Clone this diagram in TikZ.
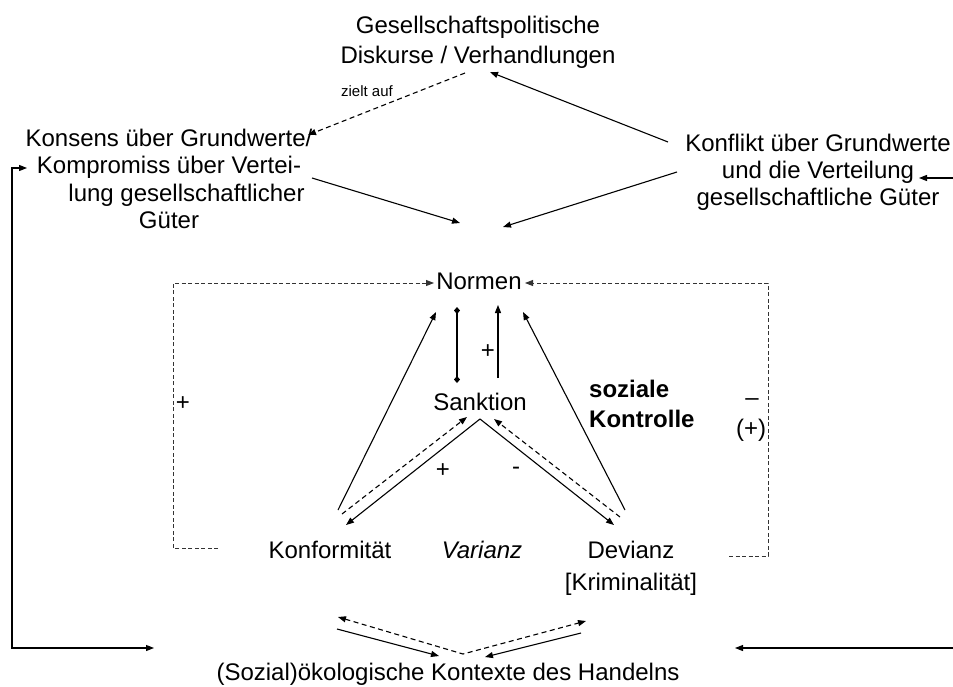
\documentclass[tikz,border=0pt]{standalone}
\usepackage{fontspec}
\setmainfont{Liberation Sans}
\usetikzlibrary{arrows.meta}
\begin{document}
\begin{tikzpicture}[x=1pt,y=-1pt,
  txt/.style={inner sep=0pt, font=\fontsize{24}{27}\selectfont},
  small/.style={inner sep=0pt, font=\fontsize{15}{18}\selectfont},
  tip/.tip={Triangle[length=8pt,width=6pt]},
  link/.style={line width=1.1pt, -tip},
  both/.style={line width=1.1pt, tip-tip},
  dlink/.style={link, dash pattern=on 5pt off 3.5pt},
  dboth/.style={both, dash pattern=on 5pt off 3.5pt},
  fbloop/.style={line width=0.9pt, black!80, dash pattern=on 4pt off 2.5pt, -tip},
]
\useasboundingbox (0,0) rectangle (953,686);

% ---- text blocks ----
\node[txt, align=center, anchor=north] (ges) at (478,15.5)
  {Gesellschaftspolitische\\[3pt]Diskurse / Verhandlungen};
\node[small, anchor=base] (ziel) at (367,96) {zielt auf};
\node[txt, align=center, anchor=north] (kons) at (169,128.5)
  {Konsens über Grundwerte/\\[0.5pt]Kompromiss über Vertei-\\[0.5pt]\hspace*{35pt}lung gesellschaftlicher\\[0.5pt]Güter};
\node[txt, align=center, anchor=north] (konf) at (818,133.5)
  {Konflikt über Grundwerte\\und die Verteilung\\gesellschaftliche Güter};

\node[txt, anchor=base] (norm) at (479,289) {Normen};
\node[txt, anchor=base] (sank) at (480,410) {Sanktion};
\node[txt, anchor=base] (konform) at (330,558) {Konformität};
\node[txt, anchor=base, font=\fontsize{24}{27}\selectfont\itshape] (var) at (482,558) {Varianz};
\node[txt, anchor=base] (dev) at (631,558) {Devianz};
\node[txt, anchor=base] (krim) at (631,590) {[Kriminalität]};
\node[txt, anchor=base] (ctx) at (448,680) {(Sozial)ökologische Kontexte des Handelns};

\node[inner sep=0pt, align=left, anchor=north west, font=\fontsize{24}{30}\selectfont\bfseries]
  (soz) at (589,379.5) {soziale\\Kontrolle};

\node[txt] (plusL) at (183,404) {+};
\node[txt] (minusR) at (752,402) {–};
\node[txt] (parR) at (751,430) {(+)};
\node[txt] (plusN) at (488,352) {+};
\node[txt] (plusV) at (443,471) {+};
\node[txt] (minusV) at (516,471) {-};

% ---- connector end points ----
\coordinate (gesS)  at (465,73);
\coordinate (konsT) at (308,135);
\coordinate (gesE)  at (490,72);
\coordinate (konfA) at (668,142);
\coordinate (konsB) at (312,178);
\coordinate (mid)   at (460,223);
\coordinate (konfB) at (677,172);
\coordinate (midR)  at (503,227);

\coordinate (lStub) at (27,168);
\coordinate (lTop)  at (12,168);
\coordinate (lBot)  at (12,648);
\coordinate (lEnd)  at (154,648);
\coordinate (rTopE) at (953,178);
\coordinate (rTopT) at (919,178);
\coordinate (rBotE) at (953,648);
\coordinate (rBotT) at (735,648);

\coordinate (fL0) at (218,548);
\coordinate (fL1) at (173,548);
\coordinate (fL2) at (173,283);
\coordinate (fLT) at (434,283);
\coordinate (fR0) at (729,556);
\coordinate (fR1) at (768,556);
\coordinate (fR2) at (768,283);
\coordinate (fRT) at (525,283);

\coordinate (dTop) at (457,307);
\coordinate (dBot) at (457,383);
\coordinate (uBot) at (498,378);
\coordinate (uTop) at (498,305);

\coordinate (nL)  at (436,312);
\coordinate (nR)  at (523,312);
\coordinate (cL)  at (338,510);
\coordinate (cR)  at (625,510);

\coordinate (apex) at (480,419);
\coordinate (vL)   at (346,525);
\coordinate (vR)   at (614,525);
\coordinate (dLs)  at (342,514);
\coordinate (dLt)  at (467,417);
\coordinate (dRs)  at (620,517);
\coordinate (dRt)  at (494,419);

\coordinate (bApex) at (463,654);
\coordinate (bLt)   at (338,617);
\coordinate (bRt)   at (586,621);
\coordinate (bLs)   at (337,629);
\coordinate (bLe)   at (439,656);
\coordinate (bRs)   at (581,633);
\coordinate (bRe)   at (485,657);

% ---- upper part ----
\draw[dlink] (gesS) -- (konsT);
\draw[link]  (konfA) -- (gesE);
\draw[link]  (konsB) -- (mid);
\draw[link]  (konfB) -- (midR);

% ---- outer feedback lines ----
\draw[both] (lStub) -- (lTop) -- (lBot) -- (lEnd);
\draw[link] (rTopE) -- (rTopT);
\draw[link] (rBotE) -- (rBotT);

% ---- dashed feedback frame ----
\draw[fbloop] (fL0) -- (fL1) -- (fL2) -- (fLT);
\draw[fbloop] (fR0) -- (fR1) -- (fR2) -- (fRT);

% ---- norms and sanctions ----
\draw[line width=1.1pt, {Diamond[length=7pt,width=6pt]}-{Diamond[length=7pt,width=6pt]}] (dTop) -- (dBot);
\draw[link] (uBot) -- (uTop);
\draw[link] (cL) -- (nL);
\draw[link] (cR) -- (nR);
\draw[link] (apex) -- (vL);
\draw[link] (apex) -- (vR);
\draw[dlink] (dLs) -- (dLt);
\draw[dlink] (dRs) -- (dRt);

% ---- ecological contexts ----
\draw[dboth] (bLt) -- (bApex) -- (bRt);
\draw[link] (bLs) -- (bLe);
\draw[link] (bRs) -- (bRe);
\end{tikzpicture}
\end{document}
